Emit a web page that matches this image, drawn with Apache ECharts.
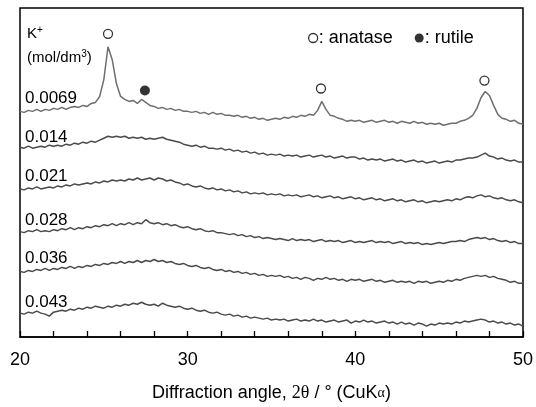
<!DOCTYPE html>
<html>
<head>
<meta charset="utf-8">
<script src="https://cdn.jsdelivr.net/npm/echarts@6/dist/echarts.min.js"></script>
<style>
  html, body { margin: 0; padding: 0; background: #fff; }
  #chart { width: 536px; height: 407px; }
</style>
</head>
<body>
<div id="chart"></div>
<script>
// 2θ grid of the scans, 20–50° every 0.25°
const angles = [];
for (let i = 0; i <= 120; i++) angles.push(20 + i * 0.25);

// intensities (a.u.), one row per degree
const k0069 = [
  16,15,17,16, 18,16,18,17, 19,18,20,18, 20,21,20,22, 21,24,25,31,
  48,81,68,44, 31,28,26,27, 24,28,25,22, 21,19,20,18, 19,17,18,16,
  16,15,16,14, 15,13,15,13, 14,12,12,11, 12,10,11,9, 10,8,9,7,
  8,9,8,10, 9,11,10,12, 11,13,12,17, 26,18,12,11, 9,8,6,7,
  6,7,5,6, 7,5,6,7, 5,6,4,6, 5,4,6,4, 5,3,4,3,
  4,2,3,4, 4,6,7,9, 12,19,30,36, 32,22,13,9, 8,6,7,4, 3
];
const k014 = [
  18,17,19,17, 18,19,18,20, 19,20,19,21, 20,22,21,23, 22,24,23,25,
  27,29,28,29, 28,29,27,28, 27,28,26,27, 26,27,28,26, 25,24,23,21,
  20,19,20,18, 19,17,17,16, 17,15,16,14, 15,13,14,12, 13,11,12,10,
  11,10,11,9, 10,9,10,8, 9,10,8,9, 10,8,9,7, 8,9,7,8,
  8,6,7,5, 6,5,6,4, 5,6,4,5, 3,4,5,3, 4,2,3,4,
  2,3,4,3, 5,5,6,7, 7,8,10,12, 9,8,6,7, 5,4,5,3, 3
];
const k021 = [
  17,16,18,17, 19,17,18,19, 18,20,19,21, 20,22,21,22, 23,22,24,23,
  25,24,26,25, 26,25,27,26, 28,26,27,28, 26,28,27,25, 26,24,23,21,
  22,20,19,20, 18,17,18,16, 17,15,16,14, 15,13,14,12, 13,12,13,11,
  12,11,12,10, 11,10,11,9, 10,11,9,10, 8,9,10,8, 9,7,8,9,
  7,8,6,7, 8,6,7,5, 6,7,5,6, 4,5,6,4, 5,3,4,5,
  4,5,6,5, 7,6,8,9, 8,10,11,9, 10,8,7,8, 6,5,6,4, 3
];
const k028 = [
  15,14,16,15, 17,15,16,15, 17,16,18,17, 19,17,19,18, 20,19,21,20,
  22,21,23,21, 23,22,24,22, 24,23,27,24, 23,24,22,23, 21,22,20,19,
  20,18,17,18, 16,15,16,14, 14,13,12,13, 11,12,10,11, 9,10,8,9,
  8,7,8,7, 6,8,6,7, 6,7,5,6, 7,5,6,5, 6,4,5,6,
  4,5,4,5, 6,4,5,4, 5,3,4,5, 3,4,3,4, 2,3,2,3,
  4,3,4,5, 5,6,5,7, 8,9,8,9, 7,8,6,5, 6,4,5,3, 3
];
const k036 = [
  15,14,16,15, 17,16,18,16, 18,17,19,18, 20,18,20,19, 21,20,22,21,
  23,22,24,23, 25,23,25,24, 26,24,26,25, 27,25,26,24, 25,23,22,23,
  21,20,21,19, 18,19,17,16, 17,15,16,14, 15,13,14,12, 13,11,12,10,
  11,10,11,9, 10,8,9,7, 9,8,6,8, 7,9,7,8, 6,7,5,7,
  6,7,5,6, 7,5,6,4, 5,6,4,5, 4,5,3,5, 4,5,3,4,
  5,4,6,5, 7,6,8,9, 10,11,10,11, 9,10,8,7, 6,4,5,3, 3
];
const k043 = [
  16,15,17,16, 18,16,15,13, 17,18,19,18, 20,19,21,20, 22,21,23,22,
  21,23,22,24, 23,25,24,26, 25,27,25,24, 25,23,26,24, 23,22,23,21,
  20,21,19,18, 19,17,16,17, 15,14,15,13, 14,12,13,11, 12,11,10,11,
  9,10,9,10, 8,9,10,8, 9,8,10,8, 9,7,8,9, 7,8,9,6,
  8,7,9,7, 8,6,7,8, 6,7,5,7, 5,6,4,6, 5,3,5,4,
  6,5,6,5, 7,6,8,7, 8,9,10,9, 7,8,6,7, 5,6,4,5, 3
];

const sampleNames = ['0.0069', '0.014', '0.021', '0.028', '0.036', '0.043'];
const scans = [k0069, k014, k021, k028, k036, k043];
// vertical shift of each scan in the stacked plot
const offsets = [211, 173, 132, 91, 51, 8];
const lineColors = ['#6e6e6e', '#4a4a4a', '#4a4a4a', '#4a4a4a', '#4a4a4a', '#4a4a4a'];

// peak markers [2θ, height]
const anatasePeaks = [[25.25, 305], [37.95, 250], [47.7, 258]];
const rutilePeaks = [[27.45, 248]];

// label text positions (y px), left side
const labelY = [98, 137, 176, 220, 258, 302];

const chart = echarts.init(document.getElementById('chart'), null, { renderer: 'canvas' });

const font = 'Liberation Sans, Arial, sans-serif';
const serif = 'Liberation Serif, Times New Roman, serif';

const series = scans.map((arr, i) => ({
  type: 'line',
  name: sampleNames[i],
  data: arr.map((v, j) => [angles[j], v + offsets[i]]),
  showSymbol: false,
  silent: true,
  lineStyle: { color: lineColors[i], width: 1.5 },
  z: 2
}));

series.push({
  type: 'scatter',
  name: 'anatase',
  data: anatasePeaks,
  symbol: 'circle',
  symbolSize: 9,
  itemStyle: { color: '#fff', borderColor: '#000', borderWidth: 1.3 },
  z: 3
});
series.push({
  type: 'scatter',
  name: 'rutile',
  data: rutilePeaks,
  symbol: 'circle',
  symbolSize: 10,
  itemStyle: { color: '#000' },
  z: 3
});

const labels = sampleNames.map((s, i) => ({
  type: 'text',
  x: 25,
  y: labelY[i],
  style: { text: s, fontSize: 17, fontFamily: font, fill: '#000', verticalAlign: 'middle' }
}));

const option = {
  animation: false,
  backgroundColor: '#fff',
  grid: {
    left: 20, right: 11, top: 8, bottom: 68,
    show: true, borderColor: '#000', borderWidth: 1.5
  },
  legend: {
    data: [
      { name: 'anatase', icon: 'circle', itemStyle: { color: '#fff', borderColor: '#000', borderWidth: 1.3 } },
      { name: 'rutile', icon: 'circle', itemStyle: { color: '#000' } }
    ],
    left: 303, top: 24,
    itemWidth: 9, itemHeight: 9, itemGap: 22,
    selectedMode: false,
    formatter: ': {name}',
    textStyle: { fontSize: 18, fontFamily: font, color: '#000', padding: [0, 0, 0, -4] }
  },
  xAxis: {
    type: 'value',
    min: 20, max: 50, interval: 2,
    axisLine: { lineStyle: { color: '#000', width: 1.5 } },
    axisTick: { inside: true, length: 6, lineStyle: { color: '#000', width: 1.3 } },
    splitLine: { show: false },
    axisLabel: {
      margin: 14,
      fontSize: 18, fontFamily: font, color: '#000',
      formatter: v => (v % 10 === 0 ? String(v) : '')
    },
    name: '{t|Diffraction angle, }{g|2θ}{t| / ° (CuK}{a|α}{t|)}',
    nameLocation: 'middle',
    nameGap: 47,
    nameTextStyle: {
      rich: {
        t: { fontSize: 18, fontFamily: font, color: '#000' },
        g: { fontSize: 18, fontFamily: serif, color: '#000' },
        a: { fontSize: 14, fontFamily: serif, color: '#000' }
      }
    }
  },
  yAxis: {
    type: 'value',
    min: 0, max: 331,
    show: false
  },
  graphic: [
    {
      type: 'text', x: 27, y: 34,
      style: {
        text: '{k|K}{s|+}', verticalAlign: 'middle',
        rich: {
          k: { fontSize: 15, fontFamily: font, fill: '#000' },
          s: { fontSize: 10, fontFamily: font, fill: '#000', verticalAlign: 'top', padding: [0, 0, 8, 0] }
        }
      }
    },
    {
      type: 'text', x: 27, y: 58,
      style: {
        text: '{m|(mol/dm}{s|3}{m|)}', verticalAlign: 'middle',
        rich: {
          m: { fontSize: 15, fontFamily: font, fill: '#000' },
          s: { fontSize: 10, fontFamily: font, fill: '#000', verticalAlign: 'top', padding: [0, 0, 8, 0] }
        }
      }
    }
  ].concat(labels),
  series: series
};

chart.setOption(option);
</script>
</body>
</html>
